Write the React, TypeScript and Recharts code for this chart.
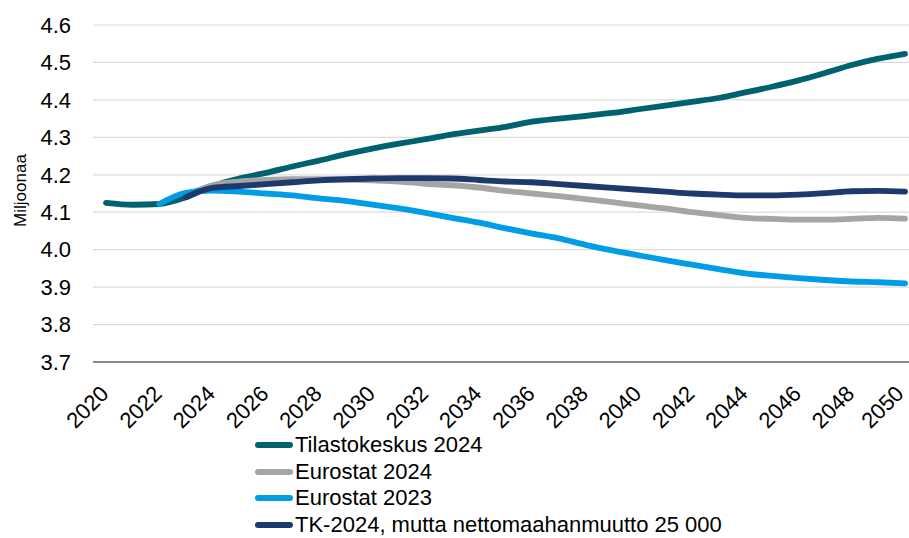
import React from 'react'
import { LineChart, Line, XAxis, YAxis, CartesianGrid } from 'recharts'

const YEARS = [
  2020, 2021, 2022, 2023, 2024, 2025, 2026, 2027, 2028, 2029, 2030,
  2031, 2032, 2033, 2034, 2035, 2036, 2037, 2038, 2039, 2040,
  2041, 2042, 2043, 2044, 2045, 2046, 2047, 2048, 2049, 2050,
]

const TILASTOKESKUS_2024 = [
  4.125, 4.12, 4.122, 4.14, 4.17, 4.19, 4.205, 4.222, 4.238, 4.255, 4.27,
  4.283, 4.295, 4.308, 4.318, 4.328, 4.342, 4.35, 4.357, 4.365, 4.375,
  4.385, 4.395, 4.405, 4.42, 4.435, 4.452, 4.472, 4.493, 4.51, 4.523,
]

const EUROSTAT_2024 = [
  null, null, null, 4.145, 4.172, 4.182, 4.186, 4.188, 4.188, 4.187, 4.185,
  4.182, 4.176, 4.172, 4.166, 4.157, 4.15, 4.143, 4.135, 4.127, 4.118,
  4.11, 4.1, 4.092, 4.085, 4.082, 4.08, 4.08, 4.082, 4.085, 4.083,
]

const EUROSTAT_2023 = [
  null, null, 4.122, 4.152, 4.158, 4.155, 4.15, 4.145, 4.137, 4.13, 4.12,
  4.11, 4.098, 4.085, 4.072, 4.057, 4.043, 4.03, 4.013, 3.998, 3.985,
  3.972, 3.96, 3.948, 3.937, 3.93, 3.924, 3.919, 3.915, 3.913, 3.91,
]

const TK_2024_NETTO_25000 = [
  null, null, null, 4.14, 4.165, 4.17, 4.175, 4.18, 4.185, 4.188, 4.19,
  4.191, 4.191, 4.19, 4.186, 4.182, 4.18, 4.175, 4.17, 4.165, 4.16,
  4.155, 4.15, 4.147, 4.145, 4.145, 4.147, 4.151, 4.156, 4.157, 4.155,
]

const Y_TICKS = [3.7, 3.8, 3.9, 4.0, 4.1, 4.2, 4.3, 4.4, 4.5, 4.6]
const X_TICKS = [2020, 2022, 2024, 2026, 2028, 2030, 2032, 2034, 2036, 2038, 2040, 2042, 2044, 2046, 2048, 2050]

const SERIES = [
  { key: 'tk2024', label: 'Tilastokeskus 2024', color: '#00626f', values: TILASTOKESKUS_2024 },
  { key: 'eu2024', label: 'Eurostat 2024', color: '#a5a5a5', values: EUROSTAT_2024 },
  { key: 'eu2023', label: 'Eurostat 2023', color: '#009de6', values: EUROSTAT_2023 },
  { key: 'tk25k', label: 'TK-2024, mutta nettomaahanmuutto 25 000', color: '#1d3a6e', values: TK_2024_NETTO_25000 },
]

const FONT = '"Liberation Sans", Arial, sans-serif'

const data = YEARS.map((year, i) => {
  const row: Record<string, number | null> = { year }
  for (const s of SERIES) row[s.key] = s.values[i]
  return row
})

function XTick({ x, y, payload }: any) {
  const ax = Math.min(x + 4, 905)
  const ay = y + 25
  return (
    <text
      x={ax}
      y={ay}
      transform={`rotate(-45, ${ax}, ${ay})`}
      textAnchor="end"
      fontSize={22}
      fontFamily={FONT}
      fill="#000"
    >
      {payload.value}
    </text>
  )
}

function YLabel({ viewBox }: any) {
  const cy = viewBox.y + viewBox.height / 2 - 3
  return (
    <text x={26} y={cy} transform={`rotate(-90, 26, ${cy})`} textAnchor="middle" fontSize={17} fontFamily={FONT} fill="#000">
      Miljoonaa
    </text>
  )
}

export default function App() {
  return (
    <div style={{ position: 'absolute', left: 0, top: 0, width: 909, height: 538, background: '#fff', overflow: 'hidden' }}>
      <LineChart width={909} height={538} data={data} margin={{ top: 25, right: 0, left: 0, bottom: 116 }}>
        <CartesianGrid horizontal vertical={false} stroke="#dcdcdc" strokeWidth={1.2} />
        <XAxis
          dataKey="year" type="number" domain={[2020, 2050]} ticks={X_TICKS}
          padding={{ left: 13, right: 4 }} height={60}
          axisLine={{ stroke: '#888', strokeWidth: 2 }} tickLine={false}
          tick={<XTick />} interval={0}
        />
        <YAxis
          domain={[3.7, 4.6]} ticks={Y_TICKS} width={93}
          axisLine={false} tickLine={false} tickMargin={16}
          tickFormatter={(v: number) => v.toFixed(1)}
          tick={{ fontSize: 22, fill: '#000', fontFamily: FONT }}
          label={<YLabel />}
        />
        {SERIES.map((s) => (
          <Line
            key={s.key} dataKey={s.key} name={s.label} type="monotone"
            stroke={s.color} strokeWidth={5.8} strokeLinecap="round" strokeLinejoin="round"
            dot={false} activeDot={false} connectNulls={false} isAnimationActive={false}
          />
        ))}
      </LineChart>
      <div style={{ position: 'absolute', left: 255, top: 432, fontFamily: FONT, fontSize: 22, color: '#000' }}>
        {SERIES.map((s) => (
          <div key={s.key} style={{ display: 'flex', alignItems: 'center', height: 26.5, lineHeight: '20px' }}>
            <span style={{ display: 'inline-block', width: 38, height: 6, borderRadius: 3, background: s.color, marginRight: 2 }} />
            <span>{s.label}</span>
          </div>
        ))}
      </div>
    </div>
  )
}
